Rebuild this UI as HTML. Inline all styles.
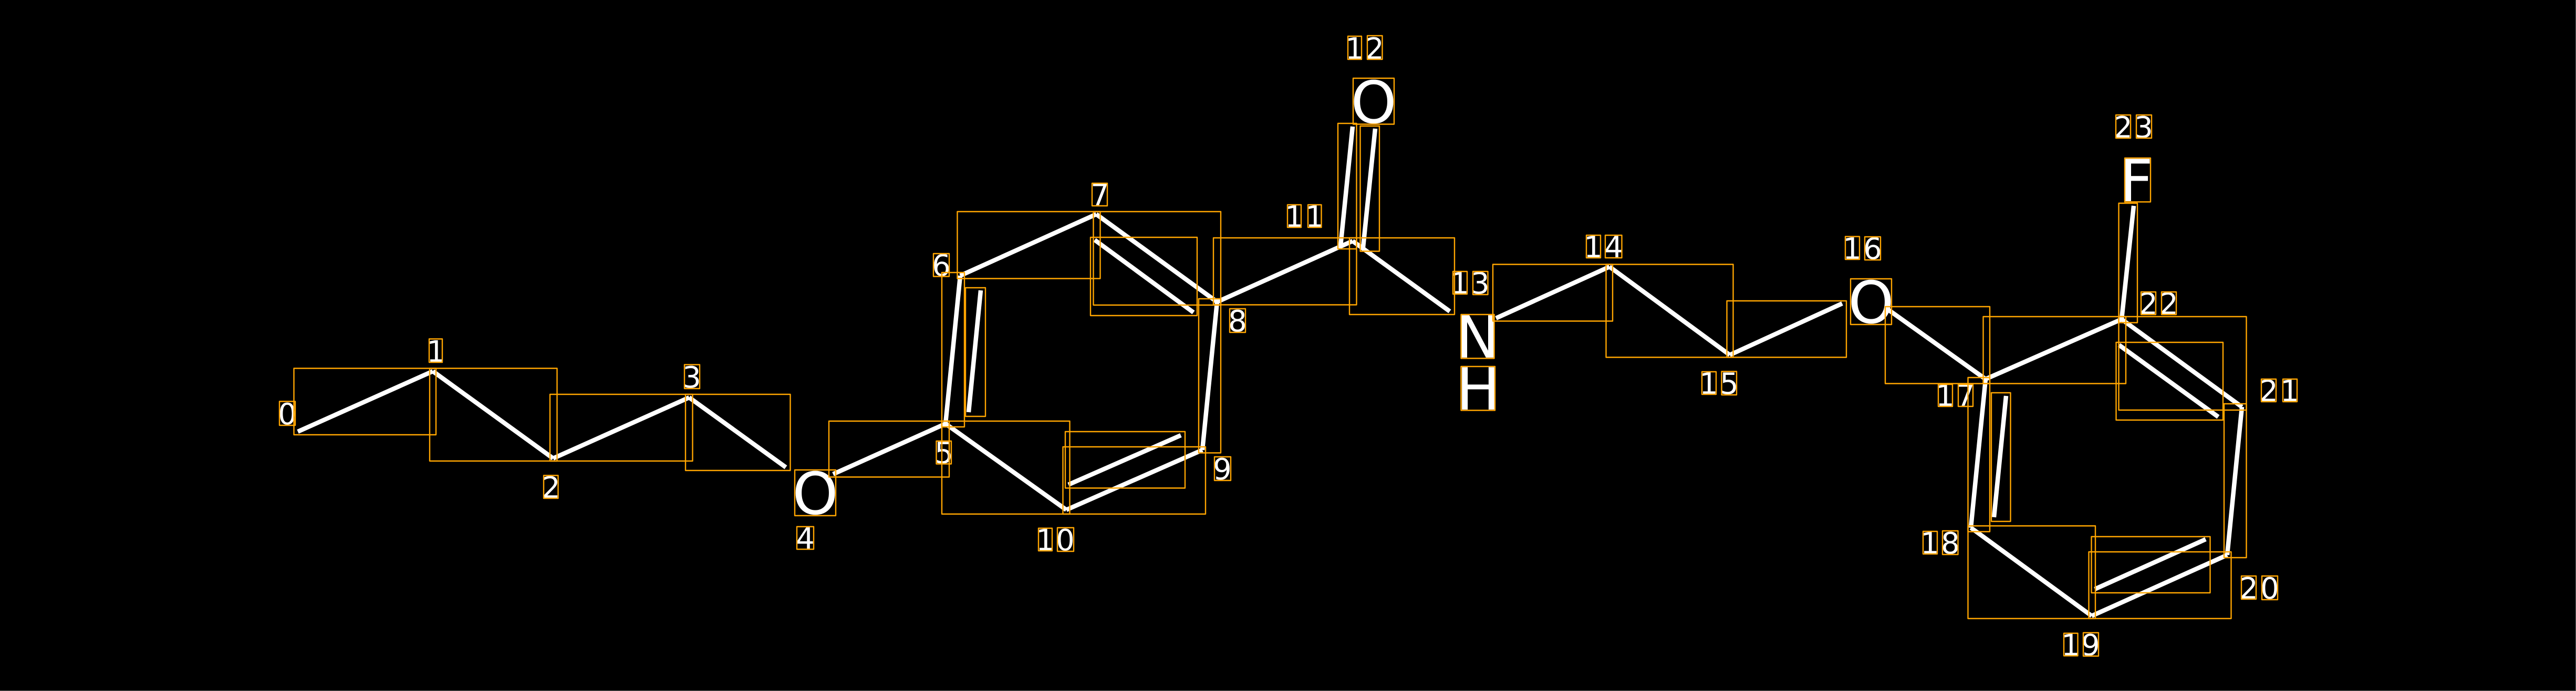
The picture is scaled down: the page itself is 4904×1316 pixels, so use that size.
<!DOCTYPE html>
<html>
<head>
<meta charset="utf-8">
<style>
html,body{margin:0;padding:0;background:#000;width:4904px;height:1316px;overflow:hidden}
svg{display:block}
.b line{stroke:#fff;stroke-width:8.5;stroke-linecap:butt}
.r rect{fill:none;stroke:#ffa500;stroke-width:2.4;stroke-linejoin:round}
text{font-family:"DejaVu Sans","Liberation Sans",sans-serif;fill:#fff;text-anchor:middle}
.d text{font-size:56px}
.a text{font-size:111px}
</style>
</head>
<body>
<svg xmlns="http://www.w3.org/2000/svg" width="4904" height="1316" viewBox="0 0 4904 1316">
<rect x="0" y="0" width="4904" height="1316" fill="#000"/>
<rect x="4903" y="0" width="1" height="1316" fill="#666"/>
<rect x="0" y="1315" width="4904" height="1" fill="#666"/>
<g class="b">
<line x1="567" y1="822" x2="824" y2="707"/>
<line x1="824" y1="707" x2="1053" y2="873"/>
<line x1="1053" y1="873" x2="1312" y2="757"/>
<line x1="1312" y1="757" x2="1496" y2="890"/>
<line x1="1586" y1="903" x2="1800" y2="807"/>
<line x1="1800" y1="807" x2="1828" y2="525"/>
<line x1="1867" y1="553" x2="1844" y2="785"/>
<line x1="1828" y1="525" x2="2087" y2="408"/>
<line x1="2087" y1="408" x2="2317" y2="575"/>
<line x1="2084" y1="457" x2="2272" y2="595"/>
<line x1="2317" y1="575" x2="2289" y2="857"/>
<line x1="2289" y1="857" x2="2030" y2="971"/>
<line x1="2248" y1="829" x2="2034" y2="923"/>
<line x1="2030" y1="971" x2="1800" y2="807"/>
<line x1="2317" y1="575" x2="2575" y2="459"/>
<line x1="2575" y1="241" x2="2552" y2="469"/>
<line x1="2618" y1="245" x2="2595" y2="471"/>
<line x1="2575" y1="459" x2="2760" y2="593"/>
<line x1="2848" y1="606" x2="3064" y2="508"/>
<line x1="3064" y1="508" x2="3293" y2="676"/>
<line x1="3293" y1="676" x2="3507" y2="578"/>
<line x1="3595" y1="590" x2="3780" y2="722"/>
<line x1="3780" y1="722" x2="4039" y2="608"/>
<line x1="3780" y1="722" x2="3752" y2="1005"/>
<line x1="3819" y1="754" x2="3796" y2="985"/>
<line x1="3752" y1="1005" x2="3982" y2="1173"/>
<line x1="3982" y1="1173" x2="4240" y2="1057"/>
<line x1="3988" y1="1122" x2="4199" y2="1027"/>
<line x1="4240" y1="1057" x2="4268" y2="775"/>
<line x1="4268" y1="775" x2="4039" y2="608"/>
<line x1="4034" y1="657" x2="4223" y2="794"/>
<line x1="4039" y1="608" x2="4062" y2="392"/>
</g>
<g class="a">
<text x="1552" y="979">O</text>
<text x="2615" y="234">O</text>
<text x="2813" y="681">N</text>
<text x="2814" y="780">H</text>
<text x="3562" y="615">O</text>
<text x="4067" y="383">F</text>
</g>
<g class="d">
<text x="547" y="808">0</text>
<text x="830" y="689">1</text>
<text x="1049" y="948">2</text>
<text x="1317" y="738">3</text>
<text x="1533" y="1045">4</text>
<text x="1797" y="882">5</text>
<text x="1792" y="525">6</text>
<text x="2094" y="391">7</text>
<text x="2356" y="631">8</text>
<text x="2327" y="913">9</text>
<text x="1990" y="1048">1</text><text x="2028" y="1048">0</text>
<text x="2464" y="432">1</text><text x="2503" y="432">1</text>
<text x="2579" y="112">1</text><text x="2617" y="112">2</text>
<text x="2779" y="559">1</text><text x="2818" y="559">3</text>
<text x="3033" y="490">1</text><text x="3072" y="490">4</text>
<text x="3253" y="750">1</text><text x="3292" y="750">5</text>
<text x="3526" y="493">1</text><text x="3565" y="493">6</text>
<text x="3703" y="773">1</text><text x="3742" y="773">7</text>
<text x="3674" y="1054">1</text><text x="3713" y="1054">8</text>
<text x="3942" y="1248">1</text><text x="3980" y="1248">9</text>
<text x="4281" y="1140">2</text><text x="4321" y="1140">0</text>
<text x="4319" y="764">2</text><text x="4359" y="764">1</text>
<text x="4090" y="598">2</text><text x="4129" y="598">2</text>
<text x="4042" y="262">2</text><text x="4081" y="262">3</text>
</g>
<g class="r">
<!-- bond boxes -->
<rect x="559.5" y="701.5" width="270.5" height="126.5"/>
<rect x="818" y="701.5" width="242.5" height="176.5"/>
<rect x="1047" y="751" width="271.5" height="127"/>
<rect x="1305" y="751" width="199.5" height="145"/>
<rect x="1578" y="802" width="229" height="106.5"/>
<rect x="1793" y="519" width="43" height="294"/>
<rect x="1838" y="548" width="38" height="245"/>
<rect x="1822.5" y="403" width="272" height="127.5"/>
<rect x="2081.5" y="403" width="242.5" height="178"/>
<rect x="2076" y="452" width="203" height="149"/>
<rect x="2282" y="569" width="42" height="293.5"/>
<rect x="2023.5" y="851" width="271.5" height="128"/>
<rect x="2028" y="822" width="228" height="107.5"/>
<rect x="1793" y="802" width="243.5" height="177"/>
<rect x="2310" y="453" width="272.5" height="127.5"/>
<rect x="2547" y="235" width="35.5" height="239"/>
<rect x="2589.5" y="240" width="36.5" height="238.5"/>
<rect x="2569" y="453" width="200" height="146"/>
<rect x="2842" y="503.5" width="228" height="108"/>
<rect x="3057.5" y="503.5" width="242" height="177"/>
<rect x="3287.5" y="573" width="227.5" height="107.5"/>
<rect x="3589" y="584" width="199" height="146.5"/>
<rect x="3775.5" y="603" width="271.5" height="127.5"/>
<rect x="3746.5" y="719" width="41.5" height="293.5"/>
<rect x="3791" y="748" width="36.5" height="245"/>
<rect x="3746.5" y="1001.5" width="242.5" height="176.5"/>
<rect x="3976.5" y="1051" width="271" height="127"/>
<rect x="3981.5" y="1022" width="226" height="107"/>
<rect x="4234" y="769" width="42.5" height="293"/>
<rect x="4033.5" y="603" width="243" height="178"/>
<rect x="4028.5" y="652" width="203.5" height="148"/>
<rect x="4033.5" y="387" width="35.5" height="227.5"/>
<!-- atom boxes -->
<rect x="1513" y="895" width="78" height="87"/>
<rect x="2576" y="149" width="78" height="87.5"/>
<rect x="2781.5" y="599" width="63" height="83.5"/>
<rect x="2781.5" y="698" width="64.5" height="83.5"/>
<rect x="3523" y="531" width="78" height="87"/>
<rect x="4045" y="301" width="49" height="83.5"/>
<!-- index boxes -->
<rect x="532" y="764.5" width="30" height="45.5"/>
<rect x="817" y="645.5" width="25" height="44.5"/>
<rect x="1035" y="905.5" width="27.5" height="43.5"/>
<rect x="1303" y="694.5" width="29" height="45.5"/>
<rect x="1517" y="1003" width="32" height="43"/>
<rect x="1782.5" y="840" width="28.5" height="43.5"/>
<rect x="1777" y="483" width="30" height="43.5"/>
<rect x="2079" y="349" width="29" height="43"/>
<rect x="2341" y="588" width="30" height="45"/>
<rect x="2312" y="870" width="31" height="45"/>
<rect x="1977" y="1006" width="26" height="43"/>
<rect x="2013" y="1005" width="31" height="45"/>
<rect x="2451" y="390" width="26" height="43"/>
<rect x="2490" y="390" width="25.5" height="43"/>
<rect x="2566" y="69" width="26" height="44"/>
<rect x="2603" y="68" width="28.5" height="45"/>
<rect x="2766" y="517" width="27" height="43"/>
<rect x="2804" y="517" width="28.5" height="44"/>
<rect x="3020" y="448" width="27" height="43"/>
<rect x="3056" y="448" width="31.5" height="43"/>
<rect x="3240" y="708" width="27" height="43"/>
<rect x="3277.5" y="707.5" width="28.5" height="44.5"/>
<rect x="3513" y="450.5" width="27" height="43.5"/>
<rect x="3550" y="451" width="30" height="44"/>
<rect x="3690" y="732" width="27" height="42"/>
<rect x="3728" y="732" width="28" height="42"/>
<rect x="3661" y="1012" width="27" height="43"/>
<rect x="3698" y="1011" width="29.5" height="45"/>
<rect x="3929" y="1206" width="26.5" height="43"/>
<rect x="3966" y="1205" width="29" height="44.5"/>
<rect x="4267" y="1097" width="28" height="44"/>
<rect x="4306" y="1097" width="30" height="45"/>
<rect x="4305" y="722" width="28" height="43"/>
<rect x="4346" y="722" width="27" height="43"/>
<rect x="4076" y="556" width="28" height="43"/>
<rect x="4115" y="556" width="28" height="43"/>
<rect x="4028" y="219" width="28" height="44"/>
<rect x="4067" y="219" width="29" height="44"/>
</g>
</svg>
</body>
</html>
